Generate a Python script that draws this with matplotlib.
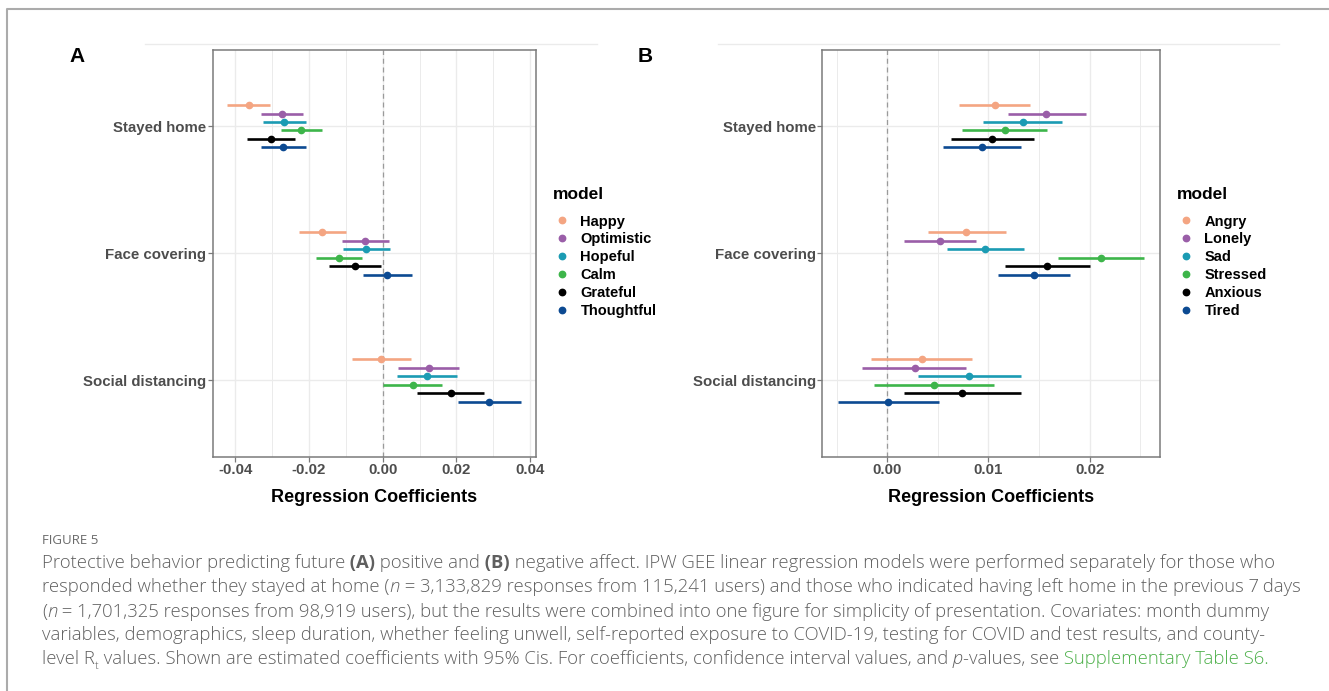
import numpy as np
import matplotlib.pyplot as plt
import matplotlib
from matplotlib.lines import Line2D

matplotlib.rcParams['font.family'] = ['Liberation Sans', 'DejaVu Sans']
matplotlib.rcParams['axes.unicode_minus'] = True

behaviors = ['Stayed home', 'Face covering', 'Social distancing']

# panel A: positive affect
pos_models = ['Happy', 'Optimistic', 'Hopeful', 'Calm', 'Grateful', 'Thoughtful']
pos_est = [[-0.0363, -0.0165, -0.0004],
           [-0.0273, -0.0048, 0.0125],
           [-0.0268, -0.0044, 0.0119],
           [-0.0221, -0.0118, 0.0082],
           [-0.0304, -0.0076, 0.0185],
           [-0.0270, 0.0012, 0.0289]]
pos_lo = [[-0.0421, -0.0228, -0.0083],
          [-0.0329, -0.0110, 0.0042],
          [-0.0325, -0.0107, 0.0038],
          [-0.0276, -0.0181, 0.0002],
          [-0.0368, -0.0146, 0.0094],
          [-0.0329, -0.0054, 0.0203]]
pos_hi = [[-0.0305, -0.0100, 0.0078],
          [-0.0215, 0.0016, 0.0207],
          [-0.0209, 0.0021, 0.0201],
          [-0.0164, -0.0056, 0.0161],
          [-0.0239, -0.0004, 0.0275],
          [-0.0209, 0.0079, 0.0375]]

# panel B: negative affect
neg_models = ['Angry', 'Lonely', 'Sad', 'Stressed', 'Anxious', 'Tired']
neg_est = [[0.0106, 0.0078, 0.0034],
           [0.0157, 0.0052, 0.0027],
           [0.0134, 0.0097, 0.0081],
           [0.0116, 0.0211, 0.0046],
           [0.0103, 0.0158, 0.0074],
           [0.0094, 0.0145, 0.0001]]
neg_lo = [[0.0071, 0.0040, -0.0016],
          [0.0119, 0.0017, -0.0025],
          [0.0095, 0.0059, 0.0030],
          [0.0074, 0.0169, -0.0013],
          [0.0063, 0.0116, 0.0017],
          [0.0055, 0.0109, -0.0049]]
neg_hi = [[0.0141, 0.0117, 0.0084],
          [0.0196, 0.0088, 0.0078],
          [0.0173, 0.0135, 0.0132],
          [0.0158, 0.0254, 0.0105],
          [0.0145, 0.0200, 0.0132],
          [0.0132, 0.0181, 0.0051]]

colors = ['#F4A582', '#9A5EA8', '#1B9BB3', '#3DB54A', '#000000', '#0C4A92']

W, H = 1329, 691
fig = plt.figure(figsize=(W / 100, H / 100), dpi=100)


def panel(left, right, models, est, lo, hi, major, minor, leg_x):
    ax = fig.add_axes([left / W, 1 - 456.7 / H, (right - left) / W, (456.7 - 50) / H])
    ymid = np.arange(1, len(behaviors) + 1)
    for j, m in enumerate(models):
        y = ymid + (j - 2.5) * 0.4 / 6
        ax.hlines(y, lo[j], hi[j], color=colors[j], lw=1.9, zorder=3)
        ax.plot(est[j], y, 'o', ms=4.5, color=colors[j], zorder=4)
    ax.axvline(0, color='#9a9a9a', lw=0.9, ls=(0, (4, 3)), zorder=2)

    x0, x1 = np.min(lo), np.max(hi)
    pad = 0.05 * (x1 - x0)
    ax.set_xlim(x0 - pad, x1 + pad)
    ax.set_ylim(3.6, 0.4)
    ax.set_yticks(ymid)
    ax.set_yticklabels(behaviors)
    ax.set_xticks(major)
    ax.set_xticks(minor, minor=True)
    ax.set_xticklabels(['%.2f' % v for v in major])
    ax.grid(True, which='major', color='#EBEBEB', lw=1.0, zorder=0)
    ax.grid(True, which='minor', axis='x', color='#EBEBEB', lw=0.7, zorder=0)
    ax.set_axisbelow(True)
    for s in ax.spines.values():
        s.set_color('#7a7a7a')
        s.set_linewidth(1.1)
    ax.tick_params(which='major', length=3.6, width=0.9, color='#7a7a7a',
                   labelcolor='#4D4D4D', labelsize=10.8, pad=1.2)
    ax.tick_params(which='minor', length=0)
    for t in ax.get_xticklabels() + ax.get_yticklabels():
        t.set_fontweight('bold')
    ax.set_xlabel('Regression Coefficients', fontsize=13, fontweight='bold')
    ax.xaxis.set_label_coords(0.5, -(489 - 456.7) / 406.7)

    handles = [Line2D([], [], marker='o', ls='', color=c, ms=4.6) for c in colors]
    leg = ax.legend(handles, models, title='model', loc='upper left',
                    bbox_to_anchor=(leg_x / W, 1 - 187 / H), bbox_transform=fig.transFigure,
                    frameon=False, borderpad=0, borderaxespad=0, handlelength=1.23,
                    handletextpad=0.65, labelspacing=0.27, alignment='left',
                    prop={'weight': 'bold', 'size': 10.5},
                    title_fontproperties={'weight': 'bold', 'size': 12.5})
    # gap between the title and the first key, as in the reference
    leg._legend_box.sep = 9
    return ax


panel(212.7, 535.7, pos_models, pos_est, pos_lo, pos_hi,
      [-0.04, -0.02, 0.0, 0.02, 0.04], [-0.03, -0.01, 0.01, 0.03], 553)
panel(822.3, 1159.7, neg_models, neg_est, neg_lo, neg_hi,
      [0.0, 0.01, 0.02], [-0.005, 0.005, 0.015, 0.025], 1177)

fig.text(77 / W, 1 - 56 / H, 'A', fontsize=15, fontweight='bold', ha='center', va='center')
fig.text(645 / W, 1 - 56 / H, 'B', fontsize=15, fontweight='bold', ha='center', va='center')

# faint image edges and the page frame
fig.add_artist(Line2D([145 / W, 597 / W], [1 - 44 / H] * 2, color='#EBEBEB', lw=1))
fig.add_artist(Line2D([718 / W, 1279 / W], [1 - 44 / H] * 2, color='#EBEBEB', lw=1))
fig.add_artist(Line2D([7 / W, 7 / W, 1], [0, 1 - 9 / H, 1 - 9 / H], color='#ABABAB', lw=1.5))

# caption
cap = fig.add_axes([0, 0, 1, 1])
cap.axis('off')
cap_font = ['Open Sans', 'DejaVu Sans']
cap_color = '#5f5f5f'


def caption_line(y, parts):
    first = prev = None
    for text, style in parts:
        kw = dict(fontsize=13.3, color=cap_color, family=cap_font, weight='light')
        kw.update(style)
        off = kw.pop('dy', 0)
        if prev is None:
            prev = cap.text(42 / W, 1 - y / H, text, ha='left', va='center', **kw)
            first = prev
        else:
            prev = cap.annotate(text, xy=(1, 0), xycoords=(prev, first), xytext=(0, off),
                                textcoords='offset points', ha='left', va='bottom', **kw)


cap.text(42 / W, 1 - 540 / H, 'FIGURE 5', fontsize=9.5, color='#6a6a6a', family=cap_font,
         ha='left', va='center')
caption_line(563.3, [('Protective behavior predicting future', {}),
                     (' (A)', {'weight': 'bold'}),
                     (' positive and', {}),
                     (' (B)', {'weight': 'bold'}),
                     (' negative affect. IPW GEE linear regression models were performed '
                      'separately for those who', {})])
caption_line(587.3, [('responded whether they stayed at home (', {}),
                     ('n', {'style': 'italic'}),
                     (' = 3,133,829 responses from 115,241 users) and those who indicated '
                      'having left home in the previous 7\u2009days', {})])
caption_line(611.7, [('(', {}),
                     ('n', {'style': 'italic'}),
                     (' = 1,701,325 responses from 98,919 users), but the results were combined '
                      'into one figure for simplicity of presentation. Covariates: month dummy', {})])
caption_line(635.0, [('variables, demographics, sleep duration, whether feeling unwell, self-reported '
                      'exposure to COVID-19, testing for COVID and test results, and county-', {})])
caption_line(659.3, [('level R', {}),
                     ('t', {'fontsize': 8, 'dy': -2.5}),
                     (' values. Shown are estimated coefficients with 95% Cis. For coefficients, '
                      'confidence interval values, and', {}),
                     (' p', {'style': 'italic'}),
                     ('-values, see', {}),
                     (' Supplementary Table S6.', {'color': '#4DB04A'})])

fig.savefig('out.png', dpi=100)
